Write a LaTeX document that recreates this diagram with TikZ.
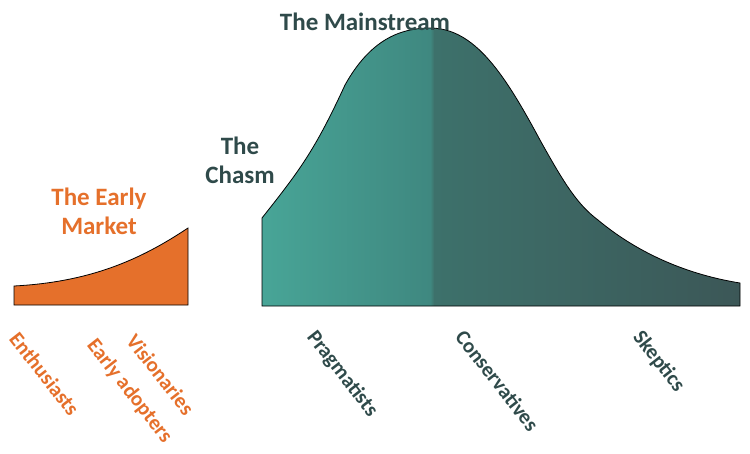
\documentclass[tikz,border=0pt]{standalone}
\usepackage{fontspec}
\setmainfont{Carlito}
\definecolor{org}{HTML}{E5702B}
\definecolor{dtl}{HTML}{2F4A4A}
\definecolor{tA}{HTML}{48A597}
\definecolor{tB}{HTML}{3F8880}
\definecolor{tC}{HTML}{3D716B}
\definecolor{tD}{HTML}{3C5757}
\pgfdeclarehorizontalshading{mainsh}{100bp}{color(0bp)=(tA);color(25bp)=(tA);color(42.6bp)=(tB);color(43bp)=(tC);color(75bp)=(tD);color(100bp)=(tD)}
\tikzset{lab/.style={font=\fontsize{21}{21}\selectfont\bfseries, rotate=-52, anchor=north west, inner sep=0pt},
 ttl/.style={font=\fontsize{25}{29}\selectfont\bfseries, align=center}}
\begin{document}
\begin{tikzpicture}[x=1pt,y=-1pt]
\useasboundingbox (0,0) rectangle (750,453);
\draw[fill=org, line width=0.8pt] (14,305) -- (14,286) .. controls (90,282) and (140,260) .. (188,228) -- (188,305) -- cycle;
\draw[shading=mainsh, shading angle=0, line width=0.8pt] (262,306) -- (262,218)
  .. controls (300,170) and (315,150) .. (345,85)
  .. controls (370,40) and (400,28) .. (430,28)
  .. controls (475,28) and (505,75) .. (540,140)
  .. controls (565,185) and (578,205) .. (598,220)
  .. controls (640,255) and (690,275) .. (740,283)
  -- (740,306) -- cycle;
\node[ttl, text=dtl] (ms) at (365,22) {The Mainstream};
\node[ttl, text=dtl] (ch) at (240,160) {The\\Chasm};
\node[ttl, text=org] (em) at (99,211) {The Early\\Market};
\node[lab, text=org] (e1) at (20,330) {Enthusiasts};
\node[lab, text=org] (e2) at (98,336) {Early adopters};
\node[lab, text=org] (e3) at (137,332) {Visionaries};
\node[lab, text=dtl] (p1) at (318,328) {Pragmatists};
\node[lab, text=dtl] (p2) at (466,328) {Conservatives};
\node[lab, text=dtl] (p3) at (644,328) {Skeptics};
\end{tikzpicture}
\end{document}
